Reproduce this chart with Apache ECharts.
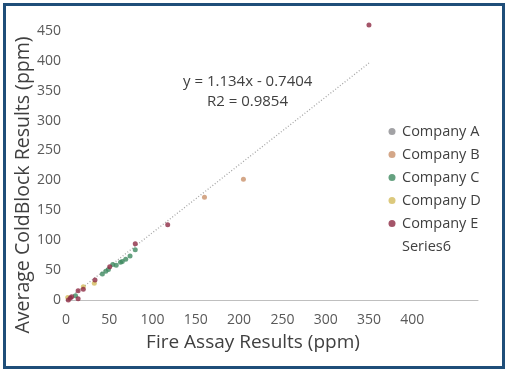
<!DOCTYPE html>
<html>
<head>
<meta charset="utf-8">
<script src="https://cdn.jsdelivr.net/npm/echarts@6/dist/echarts.min.js"></script>
<style>
  html, body { margin: 0; padding: 0; background: #fff; }
  #frame { position: absolute; left: 3px; top: 3px; width: 496px; height: 360px; border: 3px solid #1f4e79; }
  #chart { position: absolute; left: 0; top: 0; width: 505px; height: 369px; }
</style>
</head>
<body>
<div id="frame"></div>
<div id="chart"></div>
<script>
// fire assay (x) vs coldblock (y), in ppm
const companyA = [];
const companyB = [[160, 172], [205, 202]];
const companyC = [[11, 7], [42, 43.5], [46, 48], [49, 51], [54, 59.5], [58, 58], [63, 63], [65, 64.5], [69, 68], [74, 73.5], [80, 84]];
const companyD = [[2, 4], [20, 22], [32.7, 28]];
const companyE = [[2.7, 0], [5, 3.5], [6.5, 5.5], [14, 2], [14, 15.5], [20, 18], [33.5, 33.5], [50.5, 55.5], [80, 94], [117.5, 126], [350, 460]];
const slope = 1.134;
const intercept = -0.7404;
const trendX = [0, 350];
const xTicks = [0, 50, 100, 150, 200, 250, 300, 350, 400];
const yTicks = [0, 50, 100, 150, 200, 250, 300, 350, 400, 450];

const colors = ["#8b8b8f", "#c9916a", "#3e8a60", "#d3bb5c", "#8d2a44"];
const font = "Open Sans";

var myChart = echarts.init(document.getElementById("chart"));

function scatter(name, data, color) {
  return {
    name: name,
    type: "scatter",
    data: data,
    symbolSize: 5,
    itemStyle: { color: color },
    z: 3,
  };
}

var option = {
  animation: false,
  textStyle: { fontFamily: font },
  grid: { left: 66, top: 1, width: 412, height: 299 },
  xAxis: {
    type: "value",
    min: 0,
    max: 476,
    interval: 50,
    axisLine: { lineStyle: { color: "#bfbfbf", width: 1 } },
    axisTick: { show: false },
    splitLine: { show: false },
    axisLabel: {
      fontSize: 14,
      color: "#595959",
      margin: 13,
      formatter: (v) => (xTicks.indexOf(v) >= 0 ? v : ""),
    },
  },
  yAxis: {
    type: "value",
    min: 0,
    max: 500,
    interval: 50,
    axisLine: { show: false },
    axisTick: { show: false },
    splitLine: { show: false },
    axisLabel: {
      fontSize: 14,
      color: "#595959",
      margin: 5,
      formatter: (v) => (yTicks.indexOf(v) >= 0 ? v : ""),
    },
  },
  legend: {
    orient: "vertical",
    left: 383.5,
    top: 119,
    itemWidth: 7,
    itemHeight: 14,
    itemGap: 8,
    textStyle: { fontSize: 14.5, color: "#404040", fontFamily: font, padding: [0, 0, 0, 1.5] },
    data: [
      { name: "Company A", icon: "circle" },
      { name: "Company B", icon: "circle" },
      { name: "Company C", icon: "circle" },
      { name: "Company D", icon: "circle" },
      { name: "Company E", icon: "circle" },
      { name: "Series6", icon: "none" },
    ],
  },
  series: [
    scatter("Company A", companyA, colors[0]),
    scatter("Company B", companyB, colors[1]),
    scatter("Company C", companyC, colors[2]),
    scatter("Company D", companyD, colors[3]),
    scatter("Company E", companyE, colors[4]),
    {
      name: "Series6",
      type: "line",
      data: trendX.map((x) => [x, slope * x + intercept]),
      symbol: "none",
      z: 2,
      lineStyle: { color: "#a6a6a6", width: 1.3, type: [1, 2] },
      itemStyle: { color: "#a6a6a6" },
    },
  ],
  graphic: [
    {
      type: "text",
      left: 183,
      top: 74,
      style: { text: "y = 1.134x - 0.7404", fontSize: 15, fill: "#404040", fontFamily: font },
    },
    {
      type: "text",
      left: 207,
      top: 94,
      style: { text: "R2 = 0.9854", fontSize: 15, fill: "#404040", fontFamily: font },
    },
    {
      type: "text",
      x: 253,
      y: 343,
      style: { text: "Fire Assay Results (ppm)", fontSize: 19, fill: "#404040", fontFamily: font, align: "center", verticalAlign: "middle" },
    },
    {
      type: "text",
      x: 23,
      y: 185,
      rotation: Math.PI / 2,
      style: { text: "Average ColdBlock Results (ppm)", fontSize: 19.5, fill: "#404040", fontFamily: font, align: "center", verticalAlign: "middle" },
    },
  ],
};
myChart.setOption(option);
</script>
</body>
</html>
